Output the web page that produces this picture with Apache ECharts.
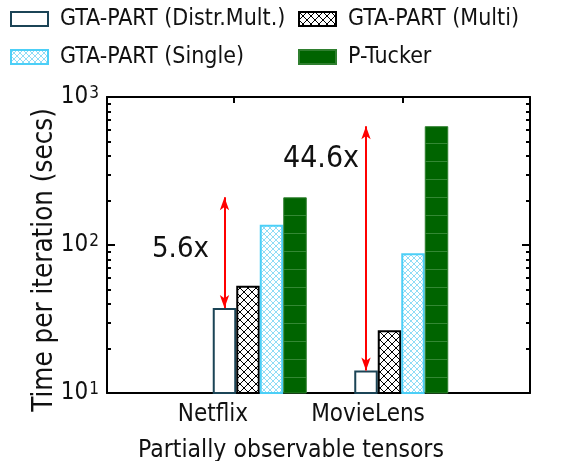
<!DOCTYPE html>
<html>
<head>
<meta charset="utf-8">
<script src="https://cdn.jsdelivr.net/npm/echarts@6/dist/echarts.min.js"></script>
<style>html,body{margin:0;padding:0;background:#fff}#c{width:572px;height:461px}</style>
</head>
<body>
<div id="c"></div>
<script>
// ---- data ----
var categories = ['Netflix', 'MovieLens'];
var seriesNames = ['GTA-PART (Distr.Mult.)', 'GTA-PART (Multi)', 'GTA-PART (Single)', 'P-Tucker'];
var distrMult = [37.5, 14.2];
var multi = [53, 26.5];
var single = [137, 88];
var pTucker = [210, 635];
var speedupLabels = ['5.6x', '44.6x'];
var yTickBase = '10';
var yTickExponents = { 1: '1', 2: '2', 3: '3' };
var minorTickValues = [20, 30, 40, 50, 60, 70, 80, 90, 200, 300, 400, 500, 600, 700, 800, 900];

var FONT = '"DejaVu Sans Condensed", "DejaVu Sans", sans-serif';

function makePattern(size, bg, draw) {
  var c = document.createElement('canvas');
  c.width = size; c.height = size;
  var g = c.getContext('2d');
  g.fillStyle = bg; g.fillRect(0, 0, size, size);
  draw(g, size);
  return { image: c, repeat: 'repeat' };
}
var crossBlack = makePattern(8, '#ffffff', function (g, s) {
  g.strokeStyle = '#000'; g.lineWidth = 1;
  g.beginPath(); g.moveTo(0, 0); g.lineTo(s, s); g.moveTo(s, 0); g.lineTo(0, s); g.stroke();
});
var crossBlue = makePattern(6, '#ffffff', function (g, s) {
  g.strokeStyle = '#8fdcf6'; g.lineWidth = 1;
  g.beginPath(); g.moveTo(0, 0); g.lineTo(s, s); g.moveTo(s, 0); g.lineTo(0, s); g.stroke();
});
var greenTex = makePattern(18, '#006400', function (g, s) {
  g.strokeStyle = 'rgba(130,190,130,0.4)'; g.lineWidth = 1;
  g.beginPath(); g.moveTo(0, s - 0.5); g.lineTo(s, s - 0.5); g.stroke();
});

var chart = echarts.init(document.getElementById('c'), null, { renderer: 'canvas' });

var frameLine = { show: true, onZero: false, lineStyle: { color: '#000', width: 2 } };
var noLine = { show: false, onZero: false };
var minorLog = minorTickValues.map(function (v) { return Math.log10(v); });

var legendText = { fontSize: 23, fontFamily: FONT, color: '#111', padding: [0, 0, 0, 7], lineHeight: 26 };

var option = {
  animation: false,
  backgroundColor: '#fff',
  textStyle: { fontFamily: FONT },
  legend: [
    {
      data: [seriesNames[0], seriesNames[2]],
      orient: 'vertical', left: 5, top: 1,
      itemWidth: 37, itemHeight: 14, itemGap: 12,
      icon: 'rect', textStyle: legendText
    },
    {
      data: [seriesNames[1], seriesNames[3]],
      orient: 'vertical', left: 293, top: 1,
      itemWidth: 37, itemHeight: 14, itemGap: 12,
      icon: 'rect', textStyle: legendText
    }
  ],
  grid: [
    { left: 107, right: 42, top: 97, bottom: 68, containLabel: false, outerBoundsMode: 'none' },
    { left: 189, right: 100, top: 97, bottom: 68, containLabel: false, outerBoundsMode: 'none' }
  ],
  xAxis: [
    {
      gridIndex: 0, type: 'value', min: -0.75, max: 1.75, position: 'bottom',
      axisLine: frameLine, axisTick: { show: false }, splitLine: { show: false },
      axisLabel: {
        customValues: [-0.1235, 0.7925],
        formatter: function (v) { return v < 0.3 ? categories[0] : categories[1]; },
        fontSize: 24, fontFamily: FONT, color: '#111', margin: 10
      },
      name: 'Partially observable tensors', nameLocation: 'middle', nameGap: 45,
      nameTextStyle: { fontSize: 24.5, fontFamily: FONT, color: '#111', padding: [0, 55, 0, 0] }
    },
    {
      gridIndex: 0, type: 'value', min: -0.75, max: 1.75, position: 'top',
      axisLine: frameLine,
      axisTick: { show: true, inside: true, length: 6, customValues: [0, 1], lineStyle: { color: '#000', width: 2 } },
      axisLabel: { show: false }, splitLine: { show: false }
    },
    { gridIndex: 1, type: 'category', data: categories, show: false }
  ],
  yAxis: [
    {
      gridIndex: 0, type: 'value', min: 1, max: 3, interval: 1, position: 'left',
      axisLine: frameLine,
      axisTick: { show: true, inside: true, length: 8, lineStyle: { color: '#000', width: 2 } },
      splitLine: { show: false },
      axisLabel: {
        margin: 8, color: '#111', fontSize: 24, fontFamily: FONT,
        formatter: function (v) { return '{b|' + yTickBase + '}{s|' + yTickExponents[v] + '}'; },
        rich: {
          b: { fontSize: 24, fontFamily: FONT, color: '#111', lineHeight: 24, verticalAlign: 'bottom' },
          s: { fontSize: 17, fontFamily: FONT, color: '#111', lineHeight: 17, verticalAlign: 'top', padding: [0, 0, 16, 1] }
        }
      },
      name: 'Time per iteration (secs)', nameLocation: 'middle', nameGap: 48, nameMoveOverlap: false,
      nameTextStyle: { fontSize: 27.5, fontFamily: FONT, color: '#111', padding: [0, 30, 0, 0] }
    },
    {
      gridIndex: 0, type: 'value', min: 1, max: 3, position: 'left',
      axisLine: noLine, axisLabel: { show: false }, splitLine: { show: false },
      axisTick: { show: true, inside: true, length: 4, customValues: minorLog, lineStyle: { color: '#000', width: 2 } }
    },
    {
      gridIndex: 0, type: 'value', min: 1, max: 3, interval: 1, position: 'right',
      axisLine: frameLine, axisLabel: { show: false }, splitLine: { show: false },
      axisTick: { show: true, inside: true, length: 8, lineStyle: { color: '#000', width: 2 } }
    },
    {
      gridIndex: 0, type: 'value', min: 1, max: 3, position: 'right',
      axisLine: noLine, axisLabel: { show: false }, splitLine: { show: false },
      axisTick: { show: true, inside: true, length: 4, customValues: minorLog, lineStyle: { color: '#000', width: 2 } }
    },
    { gridIndex: 1, type: 'log', logBase: 10, min: 10, max: 1000, show: false }
  ],
  series: [
    {
      name: seriesNames[0], type: 'bar', xAxisIndex: 2, yAxisIndex: 4,
      data: distrMult, barWidth: 23.5, barGap: '0%',
      itemStyle: { color: '#ffffff', borderColor: '#1b4456', borderWidth: 2 },
      markLine: {
        silent: true, symbol: ['arrow', 'arrow'], symbolSize: [7, 13],
        label: { show: false },
        lineStyle: { color: '#ff0000', width: 2, type: 'solid' },
        data: categories.map(function (c, i) {
          return [{ coord: [c, distrMult[i]] }, { coord: [c, pTucker[i]] }];
        })
      }
    },
    {
      name: seriesNames[1], type: 'bar', xAxisIndex: 2, yAxisIndex: 4,
      data: multi, barWidth: 23.5, barGap: '0%',
      itemStyle: { color: crossBlack, borderColor: '#000000', borderWidth: 2 }
    },
    {
      name: seriesNames[2], type: 'bar', xAxisIndex: 2, yAxisIndex: 4,
      data: single, barWidth: 23.5, barGap: '0%',
      itemStyle: { color: crossBlue, borderColor: '#4ccff7', borderWidth: 2 }
    },
    {
      name: seriesNames[3], type: 'bar', xAxisIndex: 2, yAxisIndex: 4,
      data: pTucker, barWidth: 23.5, barGap: '0%',
      itemStyle: { color: greenTex, borderColor: '#2f7f2f', borderWidth: 1 }
    }
  ],
  graphic: [
    { type: 'text', left: 152, top: 235, style: { text: speedupLabels[0], fontSize: 29, fontFamily: FONT, fill: '#111' } },
    { type: 'text', left: 283, top: 144, style: { text: speedupLabels[1], fontSize: 30, fontFamily: FONT, fill: '#111' } }
  ]
};
chart.setOption(option);
</script>
</body>
</html>
